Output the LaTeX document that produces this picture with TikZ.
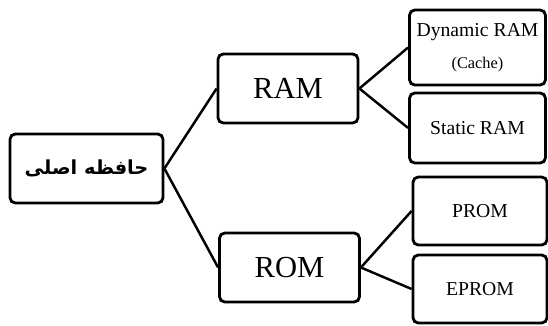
\documentclass[tikz,border=0pt]{standalone}
\usepackage{fontspec}
\setmainfont{Liberation Serif}
\newfontfamily\persianfont[Script=Arabic]{DejaVu Sans}
\TeXXeTstate=1
\begin{document}
\begin{tikzpicture}[
    box/.style={draw,line width=1.6pt,rounded corners=3pt,align=center,inner sep=0pt},
    big/.style={box,minimum width=2.8cm,minimum height=1.38cm,font=\fontsize{17.4}{20}\selectfont},
    small/.style={box,minimum width=2.72cm,font=\fontsize{11.2}{17.9}\selectfont},
    link/.style={line width=1.4pt}]
  \useasboundingbox (0,0) rectangle (10.96,-6.52);
  % root
  \node[box,minimum width=3.06cm,minimum height=1.38cm] (main) at (1.73,-3.37)
    {\persianfont\bfseries\fontsize{11}{13}\selectfont\beginR حافظه اصلی\endR};
  % second level
  \node[big] (ram) at (5.76,-1.77) {RAM};
  \node[big] (rom) at (5.79,-5.35) {ROM};
  % leaves
  \node[small,minimum height=1.5cm] (dram) at (9.55,-0.95)
    {Dynamic RAM\\{\fontsize{9.3}{11}\selectfont (Cache)}};
  \node[small,minimum height=1.4cm] (sram) at (9.55,-2.56) {Static RAM};
  \node[small,minimum width=2.68cm,minimum height=1.36cm] (prom) at (9.6,-4.22) {PROM};
  \node[small,minimum width=2.68cm,minimum height=1.36cm] (eprom) at (9.6,-5.78) {EPROM};
  % connectors
  \draw[link] (main.east) -- (ram.west);
  \draw[link] (main.east) -- (rom.west);
  \draw[link] (ram.east) -- (dram.west);
  \draw[link] (ram.east) -- (sram.west);
  \draw[link] (rom.east) -- (prom.west);
  \draw[link] (rom.east) -- (eprom.west);
\end{tikzpicture}
\end{document}
